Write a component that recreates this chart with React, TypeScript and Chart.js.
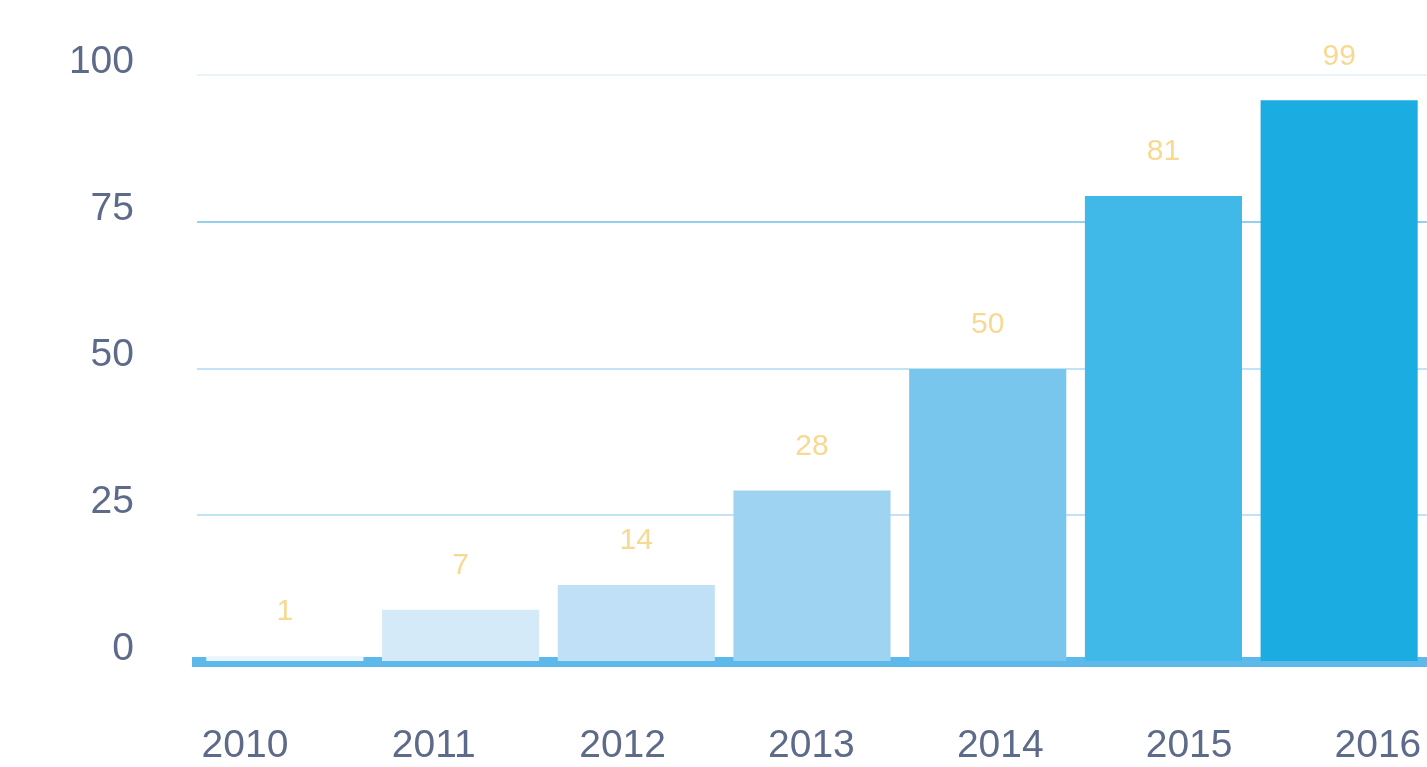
import React, { useEffect, useRef } from "react";
import { Chart, registerables } from "chart.js";

Chart.register(...registerables);

const years = ["2010", "2011", "2012", "2013", "2014", "2015", "2016"];
const yearNumbers = [2010, 2011, 2012, 2013, 2014, 2015, 2016];
const barValues = [1, 8.9, 13.1, 29.2, 49.9, 79.4, 95.7];
const valueLabels = ["1", "7", "14", "28", "50", "81", "99"];
const barColors = ["#eaf4fb", "#d5eaf8", "#bfe0f6", "#9fd3f2", "#78c5ee", "#40b8e8", "#1badE2"];
const yTicks = [0, 25, 50, 75, 100];

const valueLabelPlugin = {
  id: "valueLabels",
  afterDatasetsDraw(chart: any) {
    const meta = chart.getDatasetMeta(0);
    const ctx = chart.ctx;
    ctx.save();
    ctx.font = "30px 'Liberation Sans', Arial, sans-serif";
    ctx.fillStyle = "#f7d992";
    ctx.textAlign = "center";
    ctx.textBaseline = "middle";
    meta.data.forEach((bar: any, i: number) => {
      ctx.fillText(valueLabels[i], bar.x, bar.y - 44);
    });
    ctx.restore();
  },
};

export default function App() {
  const canvasRef = useRef<HTMLCanvasElement | null>(null);

  useEffect(() => {
    document.body.style.margin = "0";
    const canvas = canvasRef.current;
    if (!canvas) return;
    const chart = new Chart(canvas, {
      type: "bar",
      data: {
        labels: years,
        datasets: [
          {
            data: barValues,
            backgroundColor: barColors,
            borderWidth: 0,
            barPercentage: 0.894,
            categoryPercentage: 1,
          },
        ],
      },
      plugins: [valueLabelPlugin],
      options: {
        animation: false,
        responsive: false,
        maintainAspectRatio: false,
        events: [],
        layout: { padding: { top: 75, left: 0, right: 0, bottom: 0 } },
        plugins: {
          legend: { display: false },
          tooltip: { enabled: false },
          title: { display: false },
        },
        scales: {
          x: {
            type: "category",
            display: false,
            grid: { display: false },
          },
          x2: {
            type: "linear",
            position: "bottom",
            axis: "x",
            offset: false,
            min: 2009.746,
            max: 2016.26,
            bounds: "data",
            weight: 1,
            z: 1,
            grid: { display: true, offset: false, drawOnChartArea: false, drawTicks: false },
            border: { display: true, color: "#5db9ea", width: 10 },
            afterBuildTicks: (axis: any) => {
              axis.ticks = yearNumbers.map((v) => ({ value: v }));
            },
            afterFit: (axis: any) => {
              axis.paddingLeft = 0;
              axis.paddingRight = 0;
              axis.paddingTop = 0;
              axis.paddingBottom = 0;
              axis.height = 105;
            },
            ticks: {
              padding: 61,
              color: "#5d6a8a",
              font: { family: "'Liberation Sans', Arial, sans-serif", size: 39 },
              callback: (v: any) => String(v),
              maxRotation: 0,
              autoSkip: false,
            },
          },
          y: {
            min: 0,
            max: 100,
            afterBuildTicks: (axis: any) => {
              axis.ticks = yTicks.map((v) => ({ value: v }));
            },
            afterFit: (axis: any) => {
              axis.width = 197;
              axis.paddingTop = 0;
              axis.paddingBottom = 0;
              axis.paddingLeft = 0;
              axis.paddingRight = 0;
            },
            border: { display: false },
            grid: {
              drawTicks: false,
              lineWidth: 2,
              color: (ctx: any) => {
                const v = ctx.tick ? ctx.tick.value : 0;
                if (v === 0) return "rgba(0,0,0,0)";
                if (v === 100) return "#e8f3fa";
                if (v === 75) return "#96cfee";
                return "#c2e2f5";
              },
            },
            ticks: {
              padding: 63,
              labelOffset: -13,
              color: "#5d6a8a",
              font: { family: "'Liberation Sans', Arial, sans-serif", size: 39 },
            },
          },
        },
      },
    });
    return () => chart.destroy();
  }, []);

  return (
    <div style={{ position: "absolute", left: 0, top: 0, width: 1427, height: 767, background: "#ffffff" }}>
      <canvas ref={canvasRef} width={1427} height={767} style={{ display: "block", width: 1427, height: 767 }} />
    </div>
  );
}
